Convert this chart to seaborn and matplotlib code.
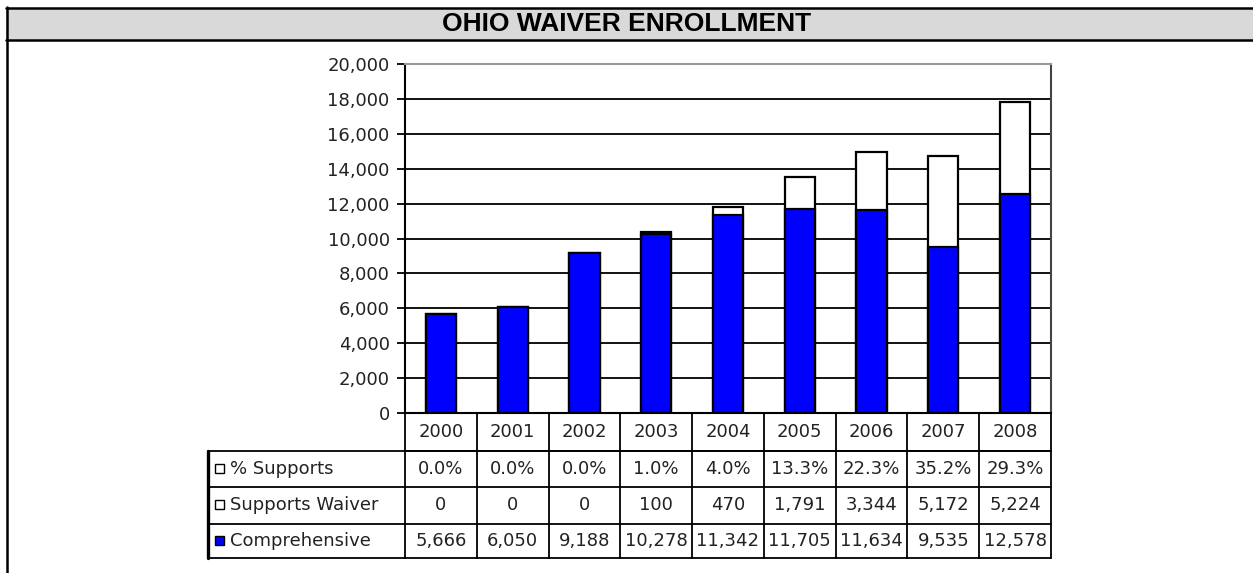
import matplotlib
matplotlib.use("Agg")
import matplotlib.pyplot as plt
from matplotlib.patches import Rectangle
from matplotlib.lines import Line2D
import numpy as np
import pandas as pd
import seaborn as sns

# Enrollment by year
years = ["2000", "2001", "2002", "2003", "2004", "2005", "2006", "2007", "2008"]
comprehensive = [5666, 6050, 9188, 10278, 11342, 11705, 11634, 9535, 12578]
supports_waiver = [0, 0, 0, 100, 470, 1791, 3344, 5172, 5224]
pct_supports = ["0.0%", "0.0%", "0.0%", "1.0%", "4.0%", "13.3%", "22.3%", "35.2%", "29.3%"]
y_ticks = list(range(0, 20001, 2000))

title = "OHIO WAIVER ENROLLMENT"
row_names = ["% Supports", "Supports Waiver", "Comprehensive"]

BLUE = "#0000ff"

sns.set_style("white")
plt.rcParams["font.family"] = ["DejaVu Sans"]

W, H = 1253, 573
fig = plt.figure(figsize=(W / 100, H / 100), dpi=100)
fig.patch.set_facecolor("white")


def fx(px):
    return px / W


def fy(py):
    return 1 - py / H


# Title band and frame
fig.patches.append(Rectangle((fx(6), fy(40)), fx(W - 6), fy(8) - fy(40),
                             transform=fig.transFigure, facecolor="#d9d9d9",
                             edgecolor="none", zorder=0))
for xs, ys in [([6, W], [8, 8]), ([6, W], [40, 40]), ([7, 7], [7, H])]:
    fig.lines.append(Line2D([fx(v) for v in xs], [fy(v) for v in ys],
                            transform=fig.transFigure, color="black", lw=1.8))
fig.text(fx(627), fy(24), title, ha="center", va="center",
         fontsize=19, fontweight="bold", family="Liberation Sans", color="black")

# Chart axes
left, right, top, zero = 405, 1051, 64, 413
ax = fig.add_axes([fx(left), fy(zero), fx(right - left), fy(top) - fy(zero)])

df = pd.DataFrame({
    "year": years,
    "comprehensive": comprehensive,
    "total": np.array(comprehensive) + np.array(supports_waiver),
})

# stacked bars: total in white, comprehensive in blue drawn over it
sns.barplot(data=df, x="year", y="total", color="white", edgecolor="black",
            linewidth=1.6, width=0.42, errorbar=None, saturation=1, ax=ax, zorder=3)
sns.barplot(data=df, x="year", y="comprehensive", color=BLUE, edgecolor="black",
            linewidth=1.6, width=0.42, errorbar=None, saturation=1, ax=ax, zorder=4)

ax.set_ylim(0, 20000)
ax.set_xlim(-0.5, len(years) - 0.5)
ax.set_yticks(y_ticks)
ax.set_yticklabels([f"{v:,}" for v in y_ticks], fontsize=13, color="#222222")
ax.set_xticks([])
ax.set_xlabel("")
ax.set_ylabel("")
ax.tick_params(axis="y", direction="out", length=6, width=1.3, color="black", pad=5, left=True)
for v in y_ticks[1:-1]:
    ax.axhline(v, color="#111111", lw=1.4, zorder=1)
ax.spines["left"].set_color("black")
ax.spines["left"].set_linewidth(1.5)
ax.spines["bottom"].set_color("black")
ax.spines["bottom"].set_linewidth(1.5)
ax.spines["top"].set_color("#9a9a9a")
ax.spines["top"].set_linewidth(1.5)
ax.spines["right"].set_color("#444444")
ax.spines["right"].set_linewidth(1.5)

# Data table under the plot
ah = zero - top
tr = ax.get_xaxis_transform()


def ay(py):
    return (zero - py) / ah


row_edges = [413, 451, 487, 524, 558]
label_left = -0.5 - (left - 208) / ((right - left) / len(years))
lk = dict(transform=tr, color="black", lw=1.3, clip_on=False)

# header row (years)
ax.plot([-0.5, len(years) - 0.5], [ay(row_edges[1])] * 2, **lk)
for i in range(len(years) + 1):
    ax.plot([i - 0.5, i - 0.5], [ay(row_edges[0]), ay(row_edges[-1])], **lk)
for r in row_edges[2:]:
    ax.plot([label_left, len(years) - 0.5], [ay(r)] * 2, **lk)
ax.plot([label_left, len(years) - 0.5], [ay(row_edges[1])] * 2, **lk)
ax.plot([label_left, label_left], [ay(row_edges[1]), ay(row_edges[-1])],
        transform=tr, color="black", lw=2.4, clip_on=False)

txt = dict(transform=tr, ha="center", va="center", fontsize=13, color="#222222", clip_on=False)
for i, yr in enumerate(years):
    ax.text(i, ay((row_edges[0] + row_edges[1]) / 2), yr, **txt)

rows = [pct_supports,
        [f"{v:,}" for v in supports_waiver],
        [f"{v:,}" for v in comprehensive]]
key_colors = ["white", "white", BLUE]
col_px = (right - left) / len(years)
for r, (name, vals, kc) in enumerate(zip(row_names, rows, key_colors)):
    yc = ay((row_edges[r + 1] + row_edges[r + 2]) / 2)
    for i, s in enumerate(vals):
        ax.text(i, yc, s, **txt)
    ax.text(label_left + 22 / col_px, yc, name, transform=tr, ha="left", va="center",
            fontsize=13, color="#222222", clip_on=False)
    ksz = 9 / ah
    kw = 9 / col_px
    ax.add_patch(Rectangle((label_left + 7 / col_px, yc - ksz / 2 + 0.002), kw, ksz,
                           transform=tr, facecolor=kc, edgecolor="black",
                           lw=1.0, clip_on=False, zorder=5))

fig.savefig("out.png", dpi=100)
